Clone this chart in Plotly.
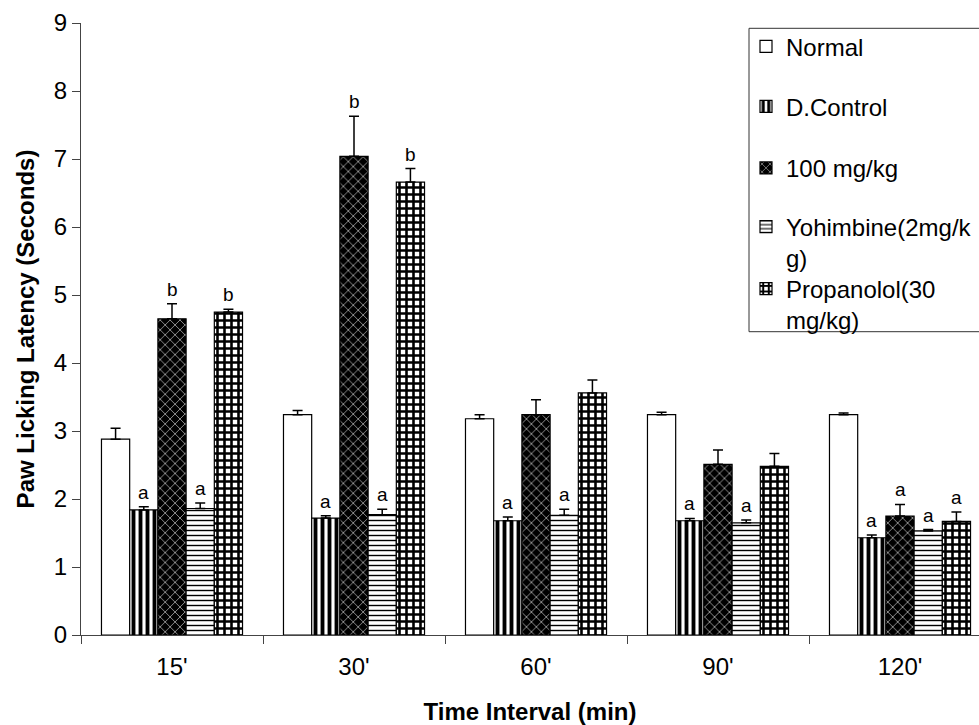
import plotly.graph_objects as go

categories = ["15'", "30'", "60'", "90'", "120'"]
series_names = ["Normal", "D.Control", "100 mg/kg", "Yohimbine(2mg/k<br>g)", "Propanolol(30<br>mg/kg)"]

normal = [2.88, 3.24, 3.18, 3.24, 3.24]
normal_err = [0.16, 0.06, 0.06, 0.035, 0.025]
dcontrol = [1.84, 1.72, 1.68, 1.68, 1.43]
dcontrol_err = [0.045, 0.035, 0.055, 0.035, 0.04]
mg100 = [4.65, 7.04, 3.24, 2.51, 1.75]
mg100_err = [0.22, 0.59, 0.22, 0.21, 0.17]
yohimbine = [1.86, 1.77, 1.76, 1.65, 1.53]
yohimbine_err = [0.08, 0.08, 0.09, 0.04, 0.02]
propanolol = [4.75, 6.66, 3.56, 2.48, 1.67]
propanolol_err = [0.04, 0.20, 0.19, 0.19, 0.14]

normal_sig = ["", "", "", "", ""]
dcontrol_sig = ["a", "a", "a", "a", "a"]
mg100_sig = ["b", "b", "", "", "a"]
yohimbine_sig = ["a", "a", "a", "a", "a"]
propanolol_sig = ["b", "b", "", "", "a"]

values = [normal, dcontrol, mg100, yohimbine, propanolol]
errors = [normal_err, dcontrol_err, mg100_err, yohimbine_err, propanolol_err]
sigs = [normal_sig, dcontrol_sig, mg100_sig, yohimbine_sig, propanolol_sig]

patterns = [
    dict(shape=""),
    dict(shape="|", fgcolor="black", bgcolor="white", size=7, solidity=0.55, fillmode="replace"),
    dict(shape="x", fgcolor="white", bgcolor="black", size=7, solidity=0.15, fillmode="replace"),
    dict(shape="-", fgcolor="black", bgcolor="white", size=5, solidity=0.28, fillmode="replace"),
    dict(shape="+", fgcolor="black", bgcolor="white", size=7, solidity=0.6, fillmode="replace"),
]

FONT = "Liberation Sans, Arial, sans-serif"
W, H = 979, 725
ML, MR, MT, MB = 81, 0, 23, 90
plot_w = W - ML - MR
plot_h = H - MT - MB
cat_px = 182.0
bargap = 0.225
nser = 5

fig = go.Figure()
legend_ids = ["legend", "legend2", "legend3", "legend4", "legend5"]
for i in range(nser):
    fig.add_trace(go.Bar(
        x=categories, y=values[i], name=series_names[i],
        marker=dict(color="white", line=dict(color="black", width=1.2), pattern=patterns[i]),
        error_y=dict(type="data", array=errors[i], arrayminus=[0] * len(categories),
                     symmetric=False, color="black", thickness=1.5, width=5),
        legend=legend_ids[i],
    ))

# significance letters above error bars
bw = (1 - bargap) / nser
for i in range(nser):
    for j in range(len(categories)):
        if sigs[i][j]:
            fig.add_annotation(
                x=j + (i - (nser - 1) / 2) * bw, y=values[i][j] + errors[i][j],
                text=sigs[i][j], showarrow=False, yanchor="bottom", yshift=2,
                font=dict(family=FONT, size=19, color="black"),
            )

def px_to_py(py):
    return 1 - (py - MT) / plot_h

def px_to_px(px):
    return (px - ML) / plot_w

# legend box
fig.add_shape(type="rect", xref="paper", yref="paper",
              x0=px_to_px(749), x1=px_to_px(1000), y0=px_to_py(331.7), y1=px_to_py(28.3),
              line=dict(color="#333333", width=1), fillcolor="white", layer="below")

legend_first_line_y = [46.7, 106.7, 168.3, 227, 289]
legend_lines = [1, 1, 1, 2, 2]
layout_legends = {}
for i, lid in enumerate(legend_ids):
    ycenter = legend_first_line_y[i] + (legend_lines[i] - 1) * 15.6
    layout_legends[lid] = dict(
        x=px_to_px(746), y=px_to_py(ycenter), xanchor="left", yanchor="middle",
        bgcolor="rgba(0,0,0,0)", borderwidth=0, valign="top", itemwidth=30,
        font=dict(family=FONT, size=24, color="black"),
    )

fig.update_layout(
    width=W, height=H,
    margin=dict(l=ML, r=MR, t=MT, b=MB, autoexpand=False),
    paper_bgcolor="white", plot_bgcolor="white",
    barmode="group", bargap=bargap, bargroupgap=0,
    showlegend=True,
    font=dict(family=FONT, size=24, color="black"),
    xaxis=dict(
        type="category", range=[-0.5, -0.5 + plot_w / cat_px],
        showline=True, linecolor="#444444", linewidth=1,
        ticks="outside", ticklen=8, tickcolor="#444444", tickson="boundaries",
        showgrid=False, zeroline=False, ticklabelstandoff=10,
        tickfont=dict(family=FONT, size=24, color="black"),
        title=dict(text="Time Interval (min)", standoff=25,
                   font=dict(family=FONT, size=24, color="black", weight="bold")),
        automargin=False,
    ),
    yaxis=dict(
        range=[0, 9], dtick=1, tick0=0,
        showline=True, linecolor="#444444", linewidth=1,
        ticks="outside", ticklen=8, tickcolor="#444444",
        showgrid=False, zeroline=False,
        tickfont=dict(family=FONT, size=24, color="black"),
        title=dict(text="Paw Licking Latency (Seconds)", standoff=12,
                   font=dict(family=FONT, size=24, color="black", weight="bold")),
        automargin=False,
    ),
    **layout_legends,
)

fig.write_html("out.html")
